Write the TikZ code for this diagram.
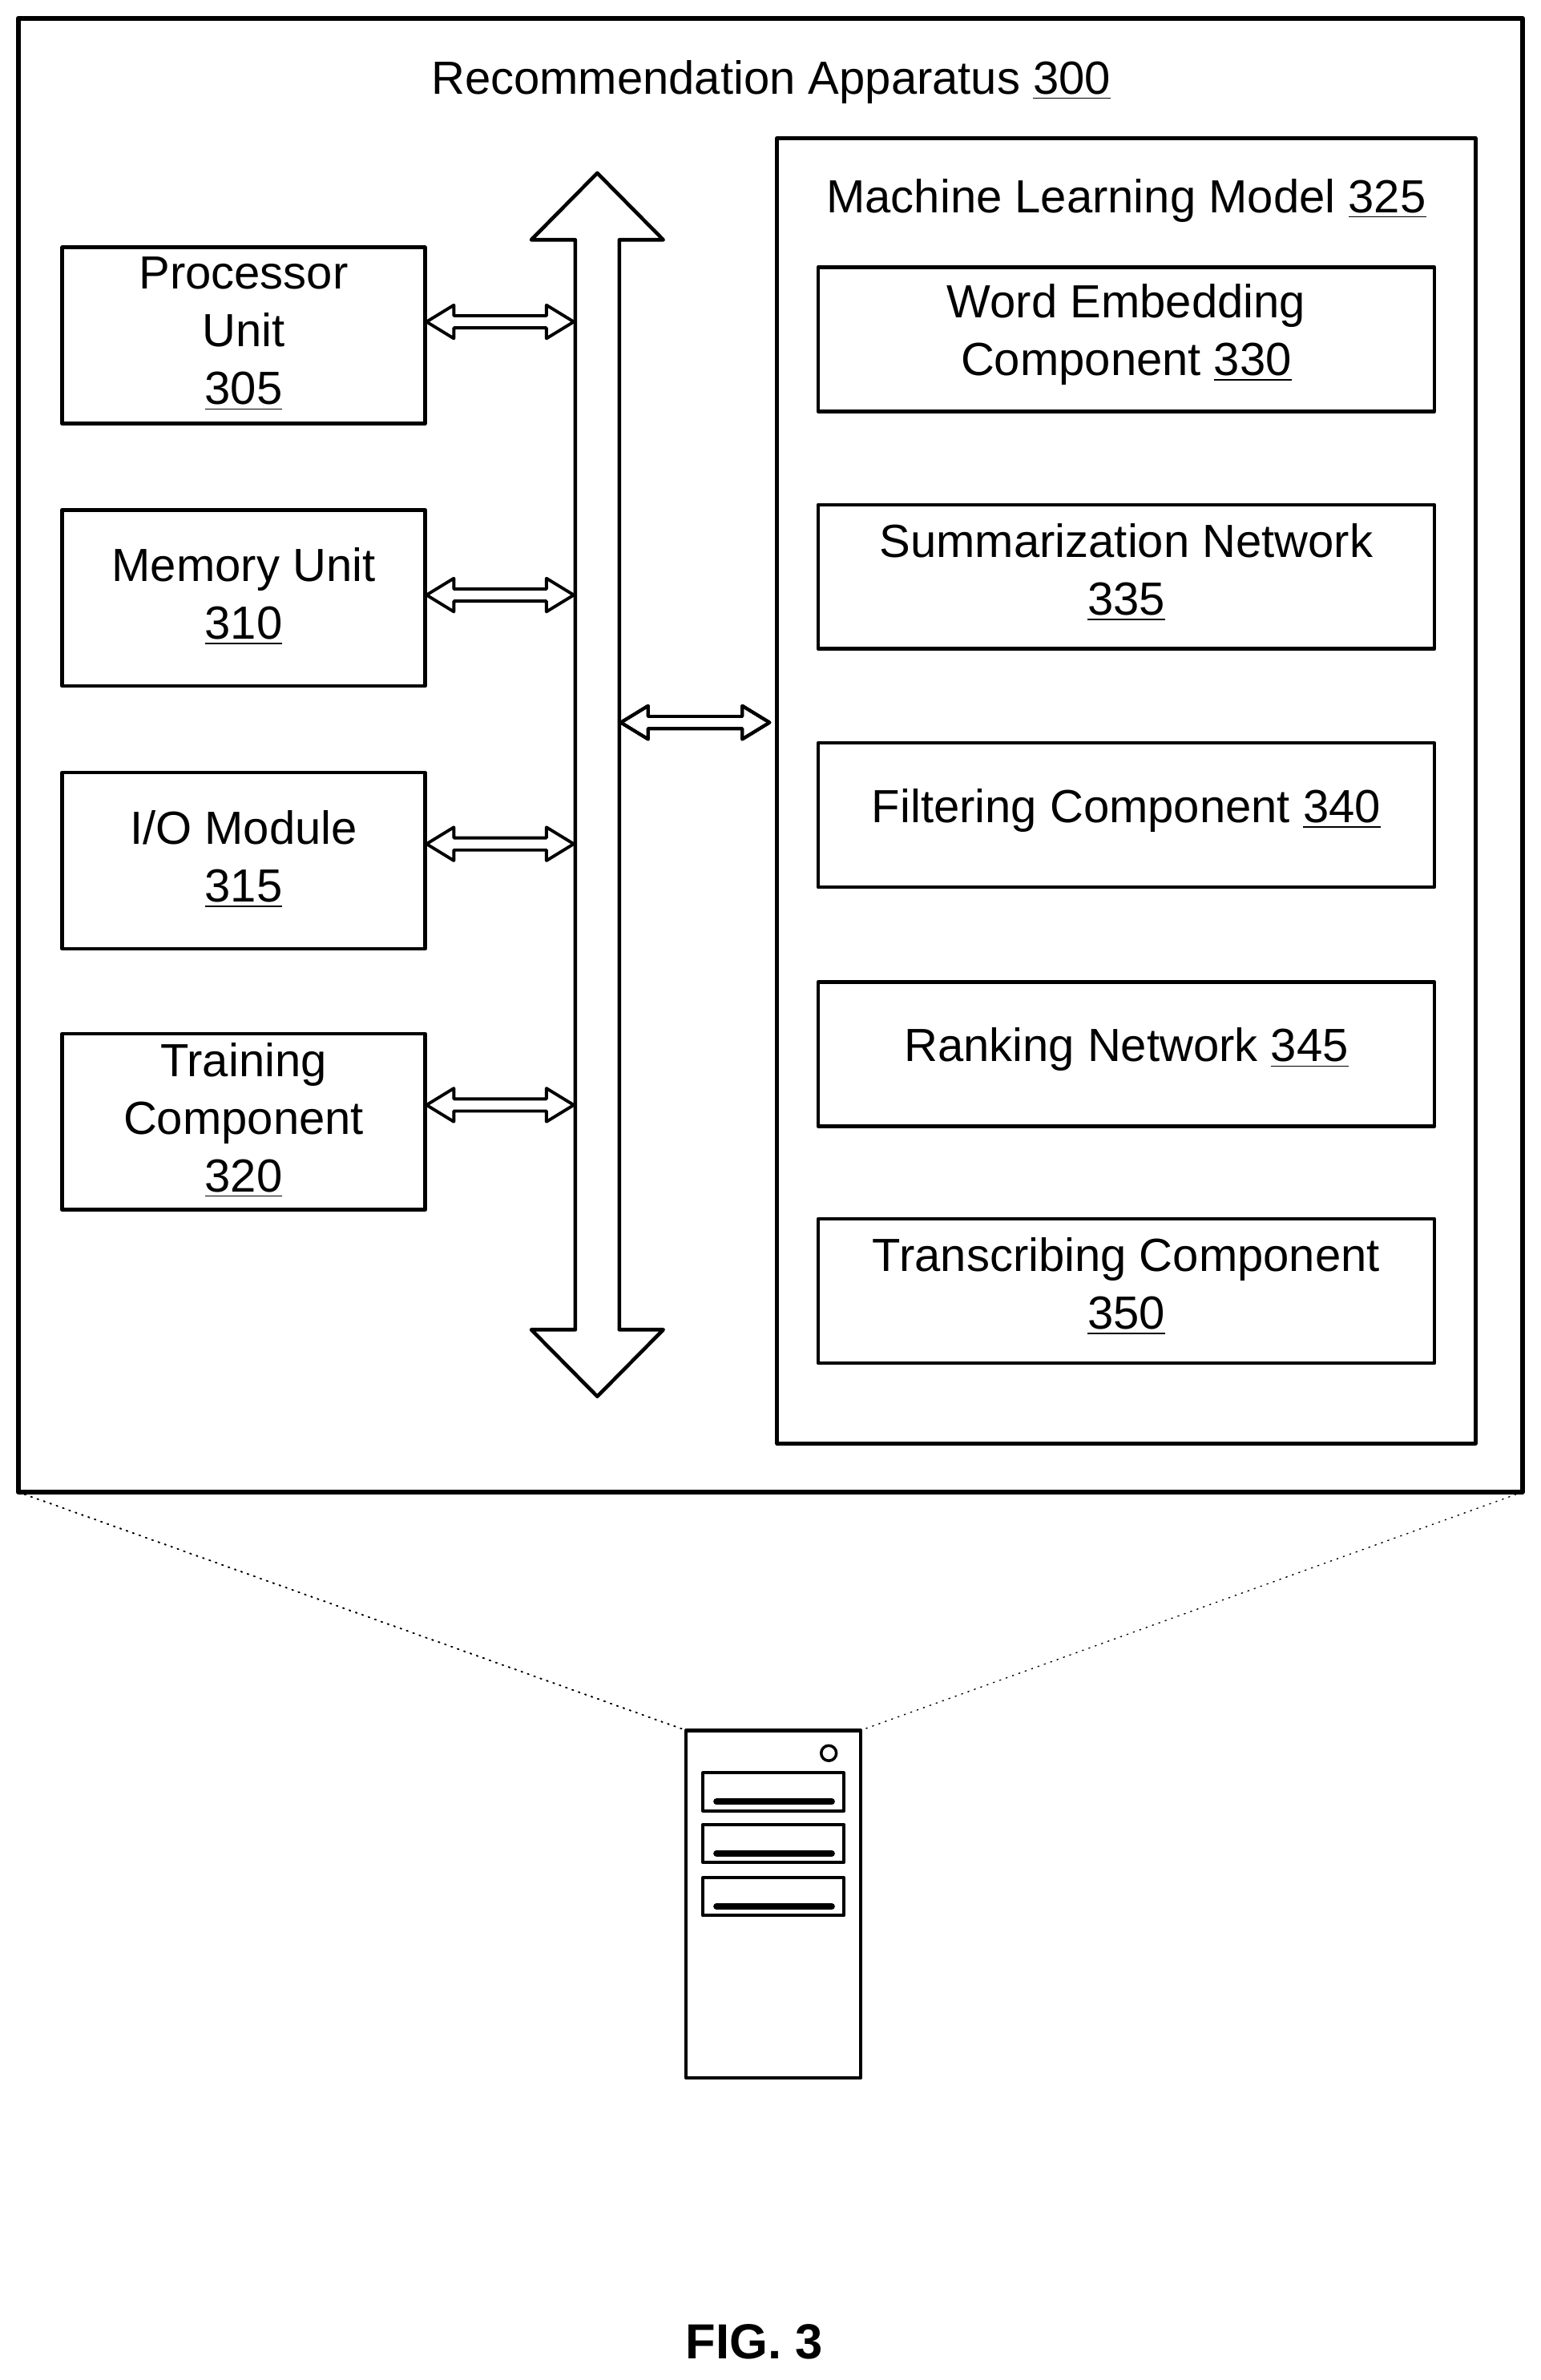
\documentclass[tikz,border=0pt]{standalone}
\usepackage{fontspec}
\setmainfont{Liberation Sans}
\newcommand\hdblarrow[3]{% from x #1 to x #2 at height #3
  \draw[line width=1.1pt] (#1,#3) -- (#1+18,#3-11) -- (#1+18,#3-4) -- (#2-18,#3-4) -- (#2-18,#3-11)
     -- (#2,#3) -- (#2-18,#3+11) -- (#2-18,#3+4) -- (#1+18,#3+4) -- (#1+18,#3+11) -- cycle;}
\begin{document}
\begin{tikzpicture}
    [line cap=round,line join=round,x=0.01894cm,y=-0.01894cm,
     lbl/.style={align=center,font=\fontsize{16.5}{20.5}\selectfont}]
\useasboundingbox (0,0) rectangle (1015,1568);
%outer apparatus
\draw[line width=1.6pt] (12,12) rectangle (1003,983);
\node[lbl] (title) at (508,54) {Recommendation Apparatus \underline{300}};
%machine learning model
\draw[line width=1.4pt] (512,91) rectangle (972,951);
\node[lbl] (mltitle) at (742,132) {Machine Learning Model \underline{325}};
\foreach \n/\y/\t in {emb/223.5/{Word Embedding\\Component \underline{330}},
                      summ/380/{Summarization Network\\\underline{335}},
                      filt/537/{Filtering Component \underline{340}},
                      rank/694.5/{Ranking Network \underline{345}},
                      trans/850.5/{Transcribing Component\\\underline{350}}}
  {\draw[line width=1.3pt] (539,\y-47.5) rectangle (945,\y+47.5);
   \node[lbl] (\n) at (742,\y-3) {\t};}
%left units
\foreach \n/\y/\t in {proc/221/{Processor\\Unit\\\underline{305}},
                      mem/394/{Memory Unit\\\underline{310}},
                      io/567/{I/O Module\\\underline{315}},
                      train/739/{Training\\Component\\\underline{320}}}
  {\draw[line width=1.3pt] (41,\y-58) rectangle (280,\y+58);
   \node[lbl] (\n) at (160.5,\y-1) {\t};}
%system bus
\draw[line width=1.3pt] (379,158) -- (350,158) -- (393.5,114) -- (437,158) -- (408,158)
   -- (408,876) -- (437,876) -- (393.5,920) -- (350,876) -- (379,876) -- cycle;
\foreach \y in {212,392,556,728}
  \hdblarrow{281}{378}{\y}
\hdblarrow{409}{507}{476}
%server
\draw[dotted,thin] (12,983) -- (452,1140);
\draw[dotted,thin] (1003,983) -- (567,1140);
\draw[line width=1.3pt] (452,1140) rectangle (567,1369);
\draw[line width=1pt] (546,1155) circle (5);
\foreach \y in {1168,1202,1237}
  {\draw[line width=1.1pt] (463,\y) rectangle (556,\y+25);
   \draw[line width=2.2pt] (472,\y+19) -- (548,\y+19);}
\node[font=\bfseries\fontsize{17.5}{20}\selectfont] (fig) at (497,1543) {FIG. 3};
\end{tikzpicture}
\end{document}
